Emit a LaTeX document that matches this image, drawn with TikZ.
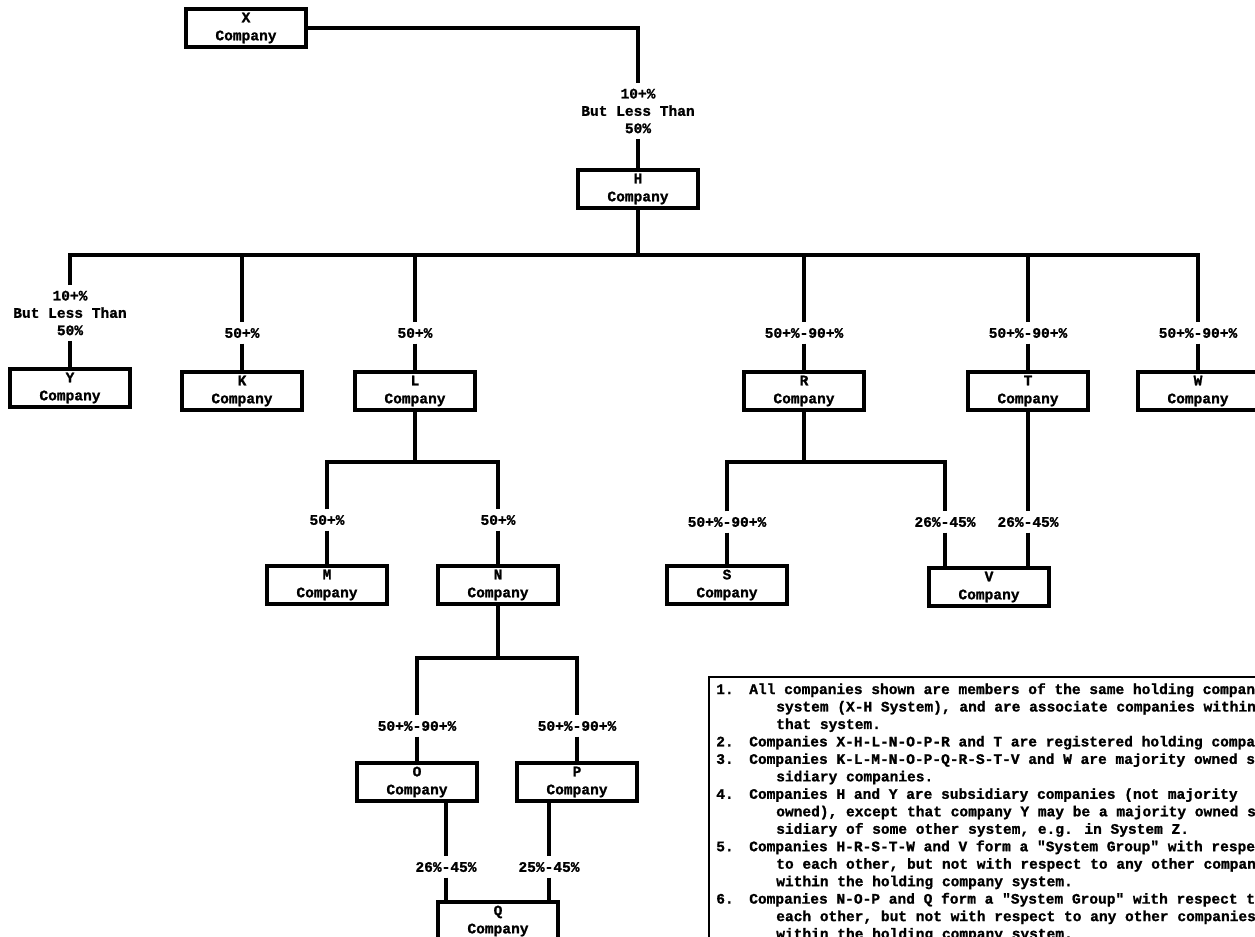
\documentclass[tikz,border=0pt]{standalone}
\usepackage{fontspec}
\usetikzlibrary{positioning}
\newfontfamily\typerfont{Liberation Mono}[BoldFeatures={FakeBold=1.2}]
\newcommand\notenum[1]{\makebox[24.75pt][l]{#1}}
\newcommand\noteindent{\hspace*{45pt}}
\tikzset{
  company/.style={draw,line width=2.6pt,minimum width=90pt,minimum height=28.5pt,
    inner sep=0pt,align=center,font=\typerfont\bfseries\fontsize{10.9}{13.5}\selectfont},
  share/.style={inner xsep=1pt,inner ysep=4pt,align=center,
    font=\typerfont\bfseries\fontsize{10.9}{13}\selectfont},
  tie/.style={line width=2.6pt},
  notes/.style={inner sep=0pt,align=left,
    font=\typerfont\bfseries\fontsize{10.9}{13.1}\selectfont}
}

\begin{document}
\begin{tikzpicture}[x=0.75pt,y=-0.75pt]
\useasboundingbox (0,0) rectangle (1255,936);

\node[company] (cox) at (246,28) {X\\Company};
\node[share] (xh) at (638,111) {10+\%\\But Less Than\\50\%};
\node[company] (coh) at (638,189) {H\\Company};
\coordinate (hbus) at (638,255);

\node[share] (hy) at (70,313) {10+\%\\But Less Than\\50\%};
\node[company] (coy) at (70,388) {Y\\Company};
\foreach \nm/\x/\ltr/\lab in {k/242/K/{50+\%},l/415/L/{50+\%},r/804/R/{50+\%-90+\%},
    t/1028/T/{50+\%-90+\%},w/1198/W/{50+\%-90+\%}}{
  \node[share] (h\nm) at (\x,333) {\lab};
  \node[company] (co\nm) at (\x,391) {\ltr\\Company};
}

\draw[tie] (cox.east) -| (xh.north);
\draw[tie] (xh.south) -- (coh.north);
\draw[tie] (coh.south) -- (hbus);
\draw[tie] (hy.north) |- (hbus) -| (hw.north);
\foreach \nm in {k,l,r,t}
  \draw[tie] (hbus -| h\nm.north) -- (h\nm.north);
\foreach \nm in {y,k,l,r,t,w}
  \draw[tie] (h\nm.south) -- (co\nm.north);

\coordinate (lbus) at (415,462);
\node[share] (lm) at (327,520) {50+\%};
\node[share] (ln) at (498,520) {50+\%};
\node[company] (com) at (327,585) {M\\Company};
\node[company] (con) at (498,585) {N\\Company};
\draw[tie] (col.south) -- (lbus);
\draw[tie] (lm.north) |- (lbus) -| (ln.north);
\draw[tie] (lm.south) -- (com.north);
\draw[tie] (ln.south) -- (con.north);

\coordinate (rbus) at (804,462);
\node[share] (rs) at (727,522) {50+\%-90+\%};
\node[share] (rv) at (945,522) {26\%-45\%};
\node[share] (tv) at (1028,522) {26\%-45\%};
\node[company] (cos) at (727,585) {S\\Company};
\node[company] (cov) at (989,587) {V\\Company};
\draw[tie] (cor.south) -- (rbus);
\draw[tie] (rs.north) |- (rbus) -| (rv.north);
\draw[tie] (rs.south) -- (cos.north);
\draw[tie] (rv.south) -- (rv.south |- cov.north);
\draw[tie] (cot.south) -- (tv.north);
\draw[tie] (tv.south) -- (tv.south |- cov.north);

\coordinate (nbus) at (498,658);
\node[share] (no) at (417,726) {50+\%-90+\%};
\node[share] (np) at (577,726) {50+\%-90+\%};
\node[company] (coo) at (417,782) {O\\Company};
\node[company] (cop) at (577,782) {P\\Company};
\draw[tie] (con.south) -- (nbus);
\draw[tie] (no.north) |- (nbus) -| (np.north);
\draw[tie] (no.south) -- (coo.north);
\draw[tie] (np.south) -- (cop.north);

\node[share] (oq) at (446,867) {26\%-45\%};
\node[share] (pq) at (549,867) {25\%-45\%};
\node[company] (coq) at (498,921) {Q\\Company};
\draw[tie] (oq.north |- coo.south) -- (oq.north);
\draw[tie] (pq.north |- cop.south) -- (pq.north);
\draw[tie] (oq.south) -- (oq.south |- coq.north);
\draw[tie] (pq.south) -- (pq.south |- coq.north);

\draw[line width=1.8pt] (709,677) rectangle (1275,950);
\node[notes,anchor=north west] (notes) at (716,683) {%
\notenum{1.}All companies shown are members of the same holding company\\
\noteindent system (X-H System), and are associate companies within\\
\noteindent that system.\\
\notenum{2.}Companies X-H-L-N-O-P-R and T are registered holding companies.\\
\notenum{3.}Companies K-L-M-N-O-P-Q-R-S-T-V and W are majority owned sub-\\
\noteindent sidiary companies.\\
\notenum{4.}Companies H and Y are subsidiary companies (not majority\\
\noteindent owned), except that company Y may be a majority owned sub-\\
\noteindent sidiary of some other system, e.g. in System Z.\\
\notenum{5.}Companies H-R-S-T-W and V form a "System Group" with respect\\
\noteindent to each other, but not with respect to any other companies\\
\noteindent within the holding company system.\\
\notenum{6.}Companies N-O-P and Q form a "System Group" with respect to\\
\noteindent each other, but not with respect to any other companies\\
\noteindent within the holding company system.};
\end{tikzpicture}
\end{document}
